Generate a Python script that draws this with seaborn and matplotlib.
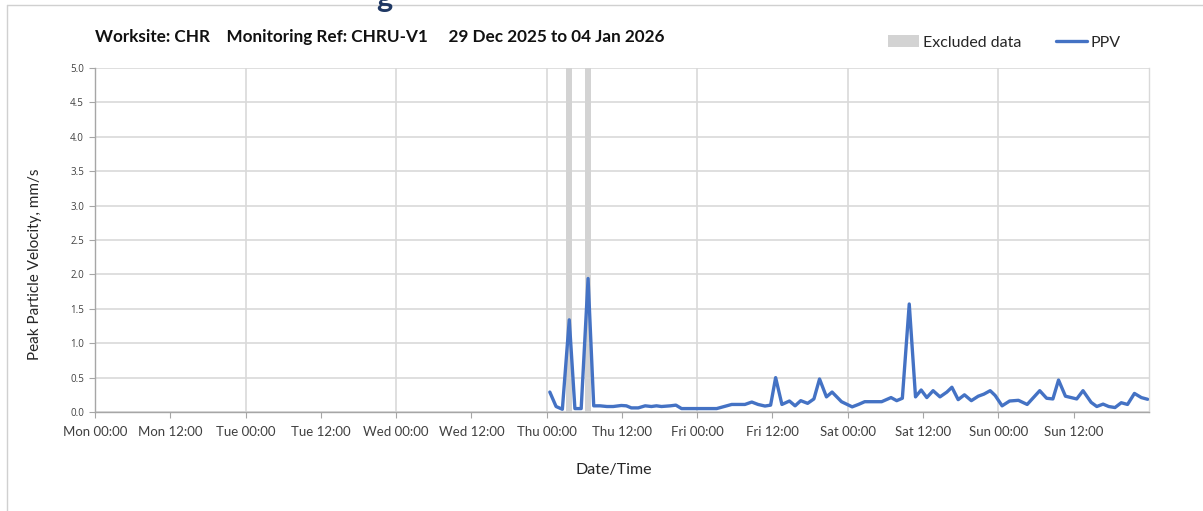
import pandas as pd
import numpy as np
import matplotlib
matplotlib.use("Agg")
import matplotlib.pyplot as plt
import matplotlib.dates as mdates
from matplotlib.ticker import FixedLocator
from matplotlib.patches import Patch
from matplotlib.lines import Line2D
import seaborn as sns

# hours since Mon 29 Dec 2025 00:00
hours = [72.5, 73.5, 74.5, 75.6, 76.5, 77.5, 78.6, 79.5, 80.5, 81.6,
         82.6, 83.9, 84.7, 85.5, 86.6, 87.7, 88.7, 89.5, 90.3, 91.7,
         92.6, 93.5, 94.8, 95.9, 97.2, 98.2, 99.1, 100.3, 101.5, 102.5,
         103.6, 104.7, 105.7, 106.8, 107.7, 108.5, 109.5, 110.7, 111.6, 112.5,
         113.6, 114.6, 115.5, 116.6, 117.5, 119.0, 120.7, 121.7, 122.7, 123.6,
         124.5, 125.4, 126.9, 127.8, 128.7, 129.8, 130.8, 131.7, 132.6, 133.6,
         134.7, 135.8, 136.6, 137.6, 138.6, 139.7, 140.8, 141.7, 142.7, 143.5,
         144.6, 145.8, 147.2, 148.6, 150.6, 151.7, 152.7, 153.6, 154.7, 156.5,
         157.5, 158.8, 159.7, 160.7, 161.6, 162.6, 163.6, 164.6, 165.7, 166.8,
         167.8]
ppv = [0.29, 0.08, 0.04, 1.34, 0.05, 0.05, 1.94, 0.09, 0.09, 0.08,
       0.08, 0.095, 0.09, 0.06, 0.06, 0.09, 0.08, 0.09, 0.08, 0.09,
       0.10, 0.05, 0.05, 0.05, 0.05, 0.05, 0.05, 0.08, 0.11, 0.11,
       0.11, 0.145, 0.11, 0.087, 0.10, 0.50, 0.11, 0.16, 0.09, 0.165,
       0.126, 0.19, 0.48, 0.22, 0.29, 0.15, 0.075, 0.11, 0.15, 0.15,
       0.15, 0.15, 0.21, 0.165, 0.20, 1.57, 0.22, 0.32, 0.21, 0.31,
       0.22, 0.29, 0.36, 0.18, 0.25, 0.165, 0.23, 0.26, 0.31, 0.24,
       0.09, 0.16, 0.17, 0.11, 0.31, 0.20, 0.19, 0.465, 0.23, 0.19,
       0.31, 0.14, 0.08, 0.115, 0.08, 0.065, 0.135, 0.11, 0.27, 0.21,
       0.185]

# excluded data windows (hours since start)
excl_start = [75.1, 78.1]
excl_end = [76.0, 79.05]

start = pd.Timestamp("2025-12-29 00:00")
title = "Worksite: CHR    Monitoring Ref: CHRU-V1     29 Dec 2025 to 04 Jan 2026"

df = pd.DataFrame({"time": start + pd.to_timedelta(hours, unit="h"), "ppv": ppv})

sns.set_theme(style="white")
plt.rcParams["font.family"] = ["Lato", "DejaVu Sans"]

fig = plt.figure(figsize=(12.03, 5.11), dpi=100)
ax = fig.add_axes([0.079, 0.1937, 0.876, 0.6733])

blue = "#4472c4"
grey_band = "#d3d3d3"
grid_c = "#d9d9d9"

for s, e in zip(excl_start, excl_end):
    ax.axvspan(start + pd.Timedelta(hours=s), start + pd.Timedelta(hours=e),
               color=grey_band, lw=0, zorder=1)

sns.lineplot(data=df, x="time", y="ppv", ax=ax, color=blue, linewidth=2.4, zorder=3)

ax.set_xlim(start, start + pd.Timedelta(days=7))
ax.set_ylim(0, 5)
yt = np.arange(0, 5.01, 0.5)
ax.set_yticks(yt)
ax.set_yticklabels([f"{v:.1f}" for v in yt], fontsize=7, color="#404040",
                   family="Open Sans")

major = [mdates.date2num(start + pd.Timedelta(hours=h)) for h in range(0, 168, 24)]
minor = [mdates.date2num(start + pd.Timedelta(hours=h)) for h in range(12, 168, 24)]
ax.xaxis.set_major_locator(FixedLocator(major))
ax.xaxis.set_minor_locator(FixedLocator(minor))
fmt = mdates.DateFormatter("%a %H:%M")
ax.xaxis.set_major_formatter(fmt)
ax.xaxis.set_minor_formatter(fmt)
ax.tick_params(axis="x", which="both", labelsize=9.5, labelcolor="#404040",
               direction="out", length=4, width=0.8, color="#a6a6a6", bottom=True, pad=6)
ax.tick_params(axis="y", direction="out", length=4, width=0.8,
               color="#a6a6a6", left=True, pad=4)

ax.grid(True, axis="y", color=grid_c, linewidth=1.2, zorder=0)
ax.grid(True, axis="x", which="major", color=grid_c, linewidth=1.2, zorder=0)
ax.set_axisbelow(True)

for side in ["left", "bottom", "right"]:
    ax.spines[side].set_color("#a6a6a6")
    ax.spines[side].set_linewidth(1.0)
ax.spines["right"].set_color(grid_c)
ax.spines["top"].set_visible(False)

ax.set_xlabel("Date/Time", fontsize=11.5, color="#262626")
ax.xaxis.set_label_coords(0.492, -0.148)
ax.set_ylabel("Peak Particle Velocity, mm/s", fontsize=11, color="#262626")
ax.yaxis.set_label_coords(-0.05, 0.43)

fig.text(0.079, 0.927, title, fontsize=12.3, fontweight="bold", color="#111111",
         ha="left", va="center")

handles = [Patch(facecolor=grey_band, edgecolor="none", label="Excluded data"),
           Line2D([0], [0], color=blue, lw=2.4, label="PPV")]
fig.legend(handles=handles, loc="center", bbox_to_anchor=(0.835, 0.917), ncol=2,
           frameon=False, fontsize=11.5, handlelength=1.9, handletextpad=0.25,
           columnspacing=2.2)

# outer frame of the exported panel and the cut-off heading letter above it
fig.add_artist(Line2D([0.006, 1.0], [0.99, 0.99], color="#d0d0d0", lw=1))
fig.add_artist(Line2D([0.006, 0.006], [0.0, 0.99], color="#d0d0d0", lw=1))
fig.text(0.313, 1.004, "g", fontsize=22, fontweight="bold", color="#1f3864",
         ha="left", va="center")

fig.savefig("out.png", dpi=100)
